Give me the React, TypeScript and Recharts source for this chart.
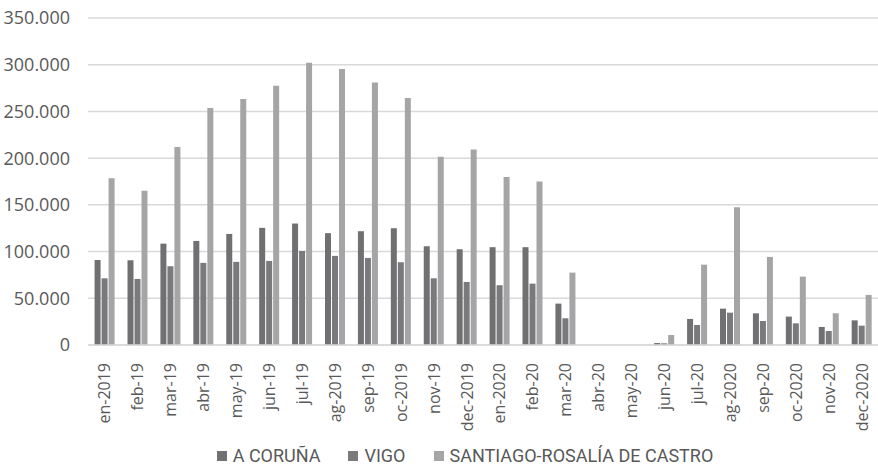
import React from "react";
import { BarChart, Bar, XAxis, YAxis, CartesianGrid, Legend } from "recharts";

const months = [
  "en-2019", "feb-19", "mar-19", "abr-19", "may-19", "jun-19", "jul-19", "ag-2019",
  "sep-19", "oc-2019", "nov-19", "dec-2019", "en-2020", "feb-20", "mar-20", "abr-20",
  "may-20", "jun-20", "jul-20", "ag-2020", "sep-20", "oc-2020", "nov-20", "dec-2020",
];

const coruna = [
  91000, 90700, 108500, 111400, 118900, 125400, 130000, 119700,
  121800, 125000, 105700, 102500, 104700, 104700, 44300, 0,
  0, 2100, 27900, 38900, 33900, 30400, 19300, 26400,
];

const vigo = [
  71400, 70700, 84300, 87900, 89000, 90000, 100700, 95400,
  93200, 88600, 71400, 67500, 64000, 65700, 28600, 0,
  0, 1800, 21400, 34600, 25700, 23200, 15000, 20700,
];

const santiago = [
  178600, 165000, 211800, 253600, 263200, 277500, 302000, 295400,
  281000, 264300, 201400, 209300, 179700, 175000, 77500, 0,
  0, 10700, 86000, 147500, 94300, 73200, 34000, 53600,
];

const yTicks = [0, 50000, 100000, 150000, 200000, 250000, 300000, 350000];

const series = [
  { key: "coruna", name: "A CORUÑA", color: "#707073" },
  { key: "vigo", name: "VIGO", color: "#7a7a7d" },
  { key: "santiago", name: "SANTIAGO-ROSALÍA DE CASTRO", color: "#a5a5a8" },
];

const data = months.map((name, i) => ({
  name,
  coruna: coruna[i],
  vigo: vigo[i],
  santiago: santiago[i],
}));

const textColor = "#595959";

const formatThousands = (v: number) =>
  v === 0 ? "0" : v.toLocaleString("de-DE");

function MonthTick({ x, y, payload }: any) {
  return (
    <text
      x={x}
      y={y}
      transform={`rotate(-90, ${x}, ${y})`}
      textAnchor="end"
      dominantBaseline="central"
      fill={textColor}
      fontSize={16}
      fontFamily="Open Sans"
    >
      {payload.value}
    </text>
  );
}

function SeriesLegend() {
  return (
    <div
      style={{
        display: "flex",
        justifyContent: "center",
        alignItems: "center",
        paddingLeft: 52,
        paddingTop: 4,
        fontFamily: "Roboto",
        fontSize: 18,
        color: textColor,
        lineHeight: "22px",
      }}
    >
      {series.map((s, i) => (
        <div
          key={s.key}
          style={{
            display: "flex",
            alignItems: "center",
            marginRight: i < series.length - 1 ? 28 : 0,
          }}
        >
          <span
            style={{
              display: "inline-block",
              width: 10,
              height: 10,
              background: s.color,
              marginRight: 6,
            }}
          />
          <span>{s.name}</span>
        </div>
      ))}
    </div>
  );
}

export default function App() {
  return (
    <div style={{ position: "absolute", left: 0, top: 0, background: "#fff" }}>
      <BarChart
        width={878}
        height={467}
        data={data}
        margin={{ top: 18, right: 0, left: 0, bottom: 0 }}
        barCategoryGap="20%"
        barGap={1}
      >
        <CartesianGrid vertical={false} stroke="#d9d9d9" strokeWidth={1.5} />
        <XAxis
          dataKey="name"
          interval={0}
          tick={<MonthTick />}
          tickLine={false}
          axisLine={{ stroke: "#d9d9d9", strokeWidth: 1.5 }}
          tickMargin={12}
          height={96}
        />
        <YAxis
          width={88}
          domain={[0, 350000]}
          ticks={yTicks}
          tickFormatter={formatThousands}
          axisLine={false}
          tickLine={false}
          tickMargin={12}
          tick={{ fill: textColor, fontSize: 18, fontFamily: "Open Sans" }}
        />
        <Legend verticalAlign="bottom" content={<SeriesLegend />} />
        {series.map((s) => (
          <Bar
            key={s.key}
            dataKey={s.key}
            name={s.name}
            fill={s.color}
            isAnimationActive={false}
          />
        ))}
      </BarChart>
    </div>
  );
}
